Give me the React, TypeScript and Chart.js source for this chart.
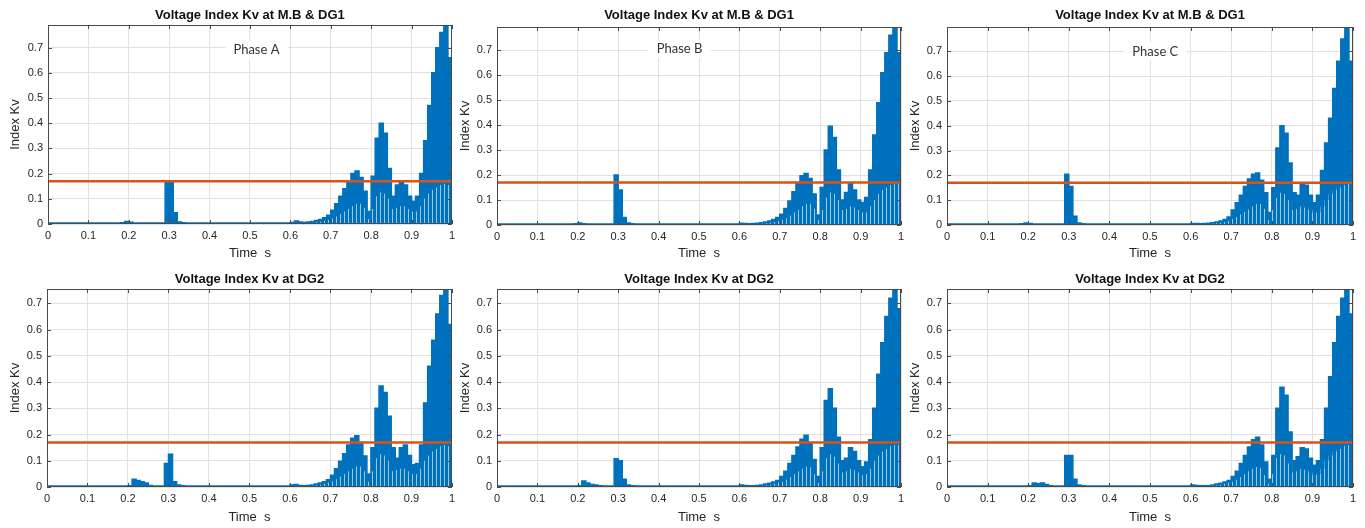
import React, { useEffect, useRef } from "react";
import { Chart, registerables } from "chart.js";

Chart.register(...registerables);

// ---------- data ----------
// time axis: one sample per half-cycle (0.01 s), value holds over [t, t+0.01]
const TIME = Array.from({ length: 101 }, (_, i) => i / 100);
const FLOOR_TIME = TIME.slice(65);
const THRESHOLD = 0.17;
const X_TICK_STEP = 0.1;
const Y_TICK_STEP = 0.1;

const TITLE_MB = "Voltage Index Kv at M.B & DG1";
const TITLE_DG2 = "Voltage Index Kv at DG2";
const X_TITLE = "Time  s";
const Y_TITLE = "Index Kv";
const PHASES = ["Phase A", "Phase B", "Phase C"];

// upper envelope of Kv (peak per half-cycle)
const KV_MB_A = [
  0.004, 0.004, 0.004, 0.004, 0.004, 0.004, 0.004, 0.004, 0.004, 0.004,
  0.004, 0.004, 0.004, 0.004, 0.004, 0.004, 0.004, 0.004, 0.005, 0.01,
  0.007, 0.004, 0.004, 0.004, 0.004, 0.004, 0.004, 0.004, 0.004, 0.17,
  0.17, 0.045, 0.008, 0.005, 0.004, 0.004, 0.004, 0.004, 0.004, 0.004,
  0.004, 0.004, 0.004, 0.004, 0.004, 0.004, 0.004, 0.004, 0.004, 0.004,
  0.004, 0.004, 0.004, 0.004, 0.004, 0.004, 0.004, 0.004, 0.004, 0.004,
  0.006, 0.012, 0.008, 0.006, 0.008, 0.01, 0.014, 0.018, 0.025, 0.035,
  0.055, 0.08, 0.11, 0.14, 0.17, 0.2, 0.21, 0.185, 0.13, 0.05,
  0.19, 0.34, 0.4, 0.36, 0.22, 0.11, 0.155, 0.17, 0.155, 0.11,
  0.09, 0.11, 0.2, 0.33, 0.47, 0.6, 0.7, 0.76, 0.79, 0.66,
  0.37,
];
const KV_MB_B = [
  0.004, 0.004, 0.004, 0.004, 0.004, 0.004, 0.004, 0.004, 0.004, 0.004,
  0.004, 0.004, 0.004, 0.004, 0.004, 0.004, 0.004, 0.004, 0.004, 0.005,
  0.008, 0.005, 0.004, 0.004, 0.004, 0.004, 0.004, 0.004, 0.004, 0.2,
  0.14, 0.03, 0.008, 0.005, 0.004, 0.004, 0.004, 0.004, 0.004, 0.004,
  0.004, 0.004, 0.004, 0.004, 0.004, 0.004, 0.004, 0.004, 0.004, 0.004,
  0.004, 0.004, 0.004, 0.004, 0.004, 0.004, 0.004, 0.004, 0.004, 0.004,
  0.007, 0.006, 0.005, 0.006, 0.007, 0.009, 0.012, 0.016, 0.022, 0.03,
  0.043, 0.066, 0.096, 0.133, 0.17, 0.197, 0.206, 0.186, 0.124, 0.04,
  0.15, 0.3, 0.395, 0.35, 0.22, 0.1, 0.13, 0.165, 0.14, 0.1,
  0.09, 0.11, 0.22, 0.36, 0.49, 0.61, 0.69, 0.76, 0.79, 0.69,
  0.6,
];
const KV_MB_C = [
  0.004, 0.004, 0.004, 0.004, 0.004, 0.004, 0.004, 0.004, 0.004, 0.004,
  0.004, 0.004, 0.004, 0.004, 0.004, 0.004, 0.004, 0.004, 0.005, 0.008,
  0.006, 0.004, 0.004, 0.004, 0.004, 0.004, 0.004, 0.004, 0.004, 0.205,
  0.155, 0.035, 0.008, 0.005, 0.004, 0.004, 0.004, 0.004, 0.004, 0.004,
  0.004, 0.004, 0.004, 0.004, 0.004, 0.004, 0.004, 0.004, 0.004, 0.004,
  0.004, 0.004, 0.004, 0.004, 0.004, 0.004, 0.004, 0.004, 0.004, 0.004,
  0.006, 0.006, 0.005, 0.006, 0.007, 0.009, 0.012, 0.016, 0.022, 0.032,
  0.06, 0.09, 0.12, 0.155, 0.185, 0.205, 0.21, 0.18, 0.13, 0.05,
  0.15, 0.31, 0.4, 0.37, 0.25, 0.13, 0.12, 0.165, 0.16, 0.12,
  0.09, 0.12, 0.22, 0.33, 0.43, 0.55, 0.66, 0.75, 0.8, 0.66,
  0.2,
];
const KV_DG2_A = [
  0.004, 0.004, 0.004, 0.004, 0.004, 0.004, 0.004, 0.004, 0.004, 0.004,
  0.004, 0.004, 0.004, 0.004, 0.004, 0.004, 0.004, 0.004, 0.004, 0.004,
  0.005, 0.03, 0.025, 0.02, 0.015, 0.006, 0.004, 0.004, 0.004, 0.09,
  0.125, 0.02, 0.008, 0.005, 0.004, 0.004, 0.004, 0.004, 0.004, 0.004,
  0.004, 0.004, 0.004, 0.004, 0.004, 0.004, 0.004, 0.004, 0.004, 0.004,
  0.004, 0.004, 0.004, 0.004, 0.004, 0.004, 0.004, 0.004, 0.004, 0.004,
  0.008, 0.01, 0.006, 0.005, 0.006, 0.008, 0.011, 0.015, 0.02, 0.028,
  0.045, 0.07, 0.098, 0.127, 0.16, 0.186, 0.195, 0.17, 0.118, 0.05,
  0.15, 0.3, 0.385, 0.36, 0.27, 0.15, 0.11, 0.15, 0.16, 0.12,
  0.085, 0.09, 0.16, 0.32, 0.46, 0.56, 0.66, 0.73, 0.755, 0.62,
  0.345,
];
const KV_DG2_B = [
  0.004, 0.004, 0.004, 0.004, 0.004, 0.004, 0.004, 0.004, 0.004, 0.004,
  0.004, 0.004, 0.004, 0.004, 0.004, 0.004, 0.004, 0.004, 0.004, 0.004,
  0.005, 0.023, 0.015, 0.01, 0.008, 0.005, 0.004, 0.004, 0.004, 0.108,
  0.1, 0.03, 0.008, 0.005, 0.004, 0.004, 0.004, 0.004, 0.004, 0.004,
  0.004, 0.004, 0.004, 0.004, 0.004, 0.004, 0.004, 0.004, 0.004, 0.004,
  0.004, 0.004, 0.004, 0.004, 0.004, 0.004, 0.004, 0.004, 0.004, 0.004,
  0.008, 0.006, 0.005, 0.005, 0.006, 0.008, 0.011, 0.014, 0.019, 0.025,
  0.04, 0.06, 0.09, 0.12, 0.153, 0.182, 0.197, 0.165, 0.105, 0.04,
  0.15, 0.33, 0.375, 0.3, 0.19, 0.1, 0.11, 0.15, 0.135, 0.1,
  0.077, 0.095, 0.18, 0.3, 0.43, 0.55, 0.65, 0.72, 0.752, 0.68,
  0.59,
];
const KV_DG2_C = [
  0.004, 0.004, 0.004, 0.004, 0.004, 0.004, 0.004, 0.004, 0.004, 0.004,
  0.004, 0.004, 0.004, 0.004, 0.004, 0.004, 0.004, 0.004, 0.004, 0.004,
  0.005, 0.015, 0.012, 0.015, 0.01, 0.005, 0.004, 0.004, 0.004, 0.12,
  0.12, 0.03, 0.008, 0.005, 0.004, 0.004, 0.004, 0.004, 0.004, 0.004,
  0.004, 0.004, 0.004, 0.004, 0.004, 0.004, 0.004, 0.004, 0.004, 0.004,
  0.004, 0.004, 0.004, 0.004, 0.004, 0.004, 0.004, 0.004, 0.004, 0.004,
  0.008, 0.006, 0.005, 0.005, 0.005, 0.008, 0.011, 0.014, 0.019, 0.025,
  0.04, 0.06, 0.09, 0.12, 0.153, 0.18, 0.19, 0.16, 0.095, 0.03,
  0.12, 0.3, 0.38, 0.35, 0.21, 0.1, 0.115, 0.15, 0.145, 0.11,
  0.083, 0.1, 0.18, 0.3, 0.42, 0.55, 0.65, 0.72, 0.755, 0.66,
  0.22,
];

// level below which the oscillation shows gaps (t = 0.65 .. 1.00)
const FLOOR_MB_A = [
  0.005, 0.007, 0.009, 0.012, 0.016,
  0.022, 0.03, 0.04, 0.05, 0.06, 0.07, 0.08, 0.08, 0.065, 0.02,
  0.06, 0.11, 0.125, 0.12, 0.1, 0.06, 0.065, 0.07, 0.07, 0.06,
  0.05, 0.05, 0.07, 0.1, 0.12, 0.135, 0.145, 0.155, 0.16, 0.155,
  0.155,
];
const FLOOR_MB_B = [
  0.005, 0.007, 0.009, 0.012, 0.016,
  0.02, 0.028, 0.038, 0.05, 0.06, 0.075, 0.085, 0.085, 0.065, 0.02,
  0.06, 0.11, 0.13, 0.125, 0.1, 0.06, 0.065, 0.075, 0.07, 0.06,
  0.05, 0.05, 0.075, 0.1, 0.125, 0.14, 0.15, 0.16, 0.165, 0.165,
  0.165,
];
const FLOOR_MB_C = [
  0.005, 0.007, 0.009, 0.012, 0.016,
  0.024, 0.032, 0.042, 0.052, 0.062, 0.075, 0.085, 0.085, 0.065, 0.02,
  0.06, 0.11, 0.13, 0.125, 0.1, 0.06, 0.065, 0.075, 0.07, 0.06,
  0.05, 0.05, 0.075, 0.1, 0.125, 0.14, 0.15, 0.16, 0.165, 0.165,
  0.165,
];
const FLOOR_DG2_A = [
  0.005, 0.007, 0.009, 0.012, 0.016,
  0.022, 0.03, 0.04, 0.05, 0.06, 0.07, 0.078, 0.078, 0.06, 0.02,
  0.06, 0.11, 0.125, 0.12, 0.1, 0.06, 0.065, 0.07, 0.07, 0.06,
  0.05, 0.05, 0.07, 0.1, 0.12, 0.135, 0.145, 0.155, 0.16, 0.155,
  0.155,
];
const FLOOR_DG2_B = [
  0.005, 0.007, 0.009, 0.012, 0.016,
  0.02, 0.028, 0.038, 0.05, 0.06, 0.07, 0.078, 0.075, 0.05, 0.015,
  0.06, 0.11, 0.125, 0.115, 0.09, 0.055, 0.06, 0.07, 0.065, 0.055,
  0.045, 0.05, 0.07, 0.1, 0.12, 0.135, 0.145, 0.155, 0.16, 0.16,
  0.16,
];
const FLOOR_DG2_C = [
  0.005, 0.007, 0.009, 0.012, 0.016,
  0.02, 0.028, 0.038, 0.05, 0.06, 0.07, 0.076, 0.072, 0.045, 0.012,
  0.05, 0.11, 0.125, 0.12, 0.09, 0.055, 0.06, 0.07, 0.065, 0.055,
  0.045, 0.05, 0.07, 0.1, 0.12, 0.135, 0.145, 0.155, 0.16, 0.155,
  0.155,
];

const Y_MAX_TOP = [0.79, 0.793, 0.798];
const Y_MAX_BOTTOM = [0.755, 0.755, 0.755];
// phase label anchor in data units [time, Kv]
const PHASE_POS = [
  [0.516, 0.69],
  [0.452, 0.705],
  [0.513, 0.7],
];

// ---------- layout (pixels) ----------
type Box = { cx: number; cy: number; cw: number; ch: number; L: number; R: number; T: number; B: number };
const BOXES: Box[] = [
  { cx: 0, cy: 0, cw: 460, ch: 264, L: 48, R: 453, T: 25, B: 224 },
  { cx: 450, cy: 0, cw: 460, ch: 264, L: 497, R: 901, T: 27, B: 225 },
  { cx: 900, cy: 0, cw: 465, ch: 264, L: 947, R: 1353, T: 27, B: 225 },
  { cx: 0, cy: 264, cw: 460, ch: 264, L: 47, R: 452, T: 289, B: 487 },
  { cx: 450, cy: 264, cw: 460, ch: 264, L: 497, R: 901, T: 289, B: 487 },
  { cx: 900, cy: 264, cw: 465, ch: 264, L: 947, R: 1353, T: 289, B: 487 },
];

const FONT = '"Liberation Sans", Arial, Helvetica, sans-serif';
const BLUE = "#0072BD";
const ORANGE = "#D95319";
const TEXT = "#262626";
const GRID = "#e1e1e1";

type Spec = {
  title: string;
  values: number[];
  floor: number[];
  yMax: number;
  phase?: { text: string; x: number; y: number };
  box: Box;
};

const SPECS: Spec[] = [
  { title: TITLE_MB, values: KV_MB_A, floor: FLOOR_MB_A, yMax: Y_MAX_TOP[0], phase: { text: PHASES[0], x: PHASE_POS[0][0], y: PHASE_POS[0][1] }, box: BOXES[0] },
  { title: TITLE_MB, values: KV_MB_B, floor: FLOOR_MB_B, yMax: Y_MAX_TOP[1], phase: { text: PHASES[1], x: PHASE_POS[1][0], y: PHASE_POS[1][1] }, box: BOXES[1] },
  { title: TITLE_MB, values: KV_MB_C, floor: FLOOR_MB_C, yMax: Y_MAX_TOP[2], phase: { text: PHASES[2], x: PHASE_POS[2][0], y: PHASE_POS[2][1] }, box: BOXES[2] },
  { title: TITLE_DG2, values: KV_DG2_A, floor: FLOOR_DG2_A, yMax: Y_MAX_BOTTOM[0], box: BOXES[3] },
  { title: TITLE_DG2, values: KV_DG2_B, floor: FLOOR_DG2_B, yMax: Y_MAX_BOTTOM[1], box: BOXES[4] },
  { title: TITLE_DG2, values: KV_DG2_C, floor: FLOOR_DG2_C, yMax: Y_MAX_BOTTOM[2], box: BOXES[5] },
];

const toXY = (xs: number[], ys: number[]) => ys.map((y, i) => ({ x: xs[i], y }));

function makeStripePattern(): CanvasPattern | string {
  const c = document.createElement("canvas");
  c.width = 4;
  c.height = 1;
  const g = c.getContext("2d");
  if (!g) return "rgba(255,255,255,0.25)";
  g.fillStyle = "rgba(255,255,255,0.6)";
  g.fillRect(0, 0, 1, 1);
  const p = g.createPattern(c, "repeat");
  return p || "rgba(255,255,255,0.25)";
}

function makeOverlay(phase?: { text: string; x: number; y: number }) {
  return {
    id: "matlabFrame",
    afterDatasetsDraw(chart: any) {
      const { ctx, chartArea: ca, scales } = chart;
      const xs = scales.x;
      const ys = scales.y;
      ctx.save();
      if (phase) {
        ctx.font = `13px Lato, "Open Sans", sans-serif`;
        const w = ctx.measureText(phase.text).width;
        const px = xs.getPixelForValue(phase.x);
        const py = ys.getPixelForValue(phase.y);
        ctx.fillStyle = "#ffffff";
        ctx.fillRect(px - w / 2 - 8, py - 9, w + 16, 18);
        ctx.fillStyle = "#333333";
        ctx.textAlign = "center";
        ctx.textBaseline = "middle";
        ctx.fillText(phase.text, px, py);
      }
      ctx.strokeStyle = "#4a4a4a";
      ctx.lineWidth = 1;
      ctx.beginPath();
      for (const t of xs.ticks) {
        const px = Math.round(xs.getPixelForValue(t.value)) + 0.5;
        ctx.moveTo(px, ca.bottom);
        ctx.lineTo(px, ca.bottom - 4);
        ctx.moveTo(px, ca.top);
        ctx.lineTo(px, ca.top + 4);
      }
      for (const t of ys.ticks) {
        const py = Math.round(ys.getPixelForValue(t.value)) + 0.5;
        ctx.moveTo(ca.left, py);
        ctx.lineTo(ca.left + 4, py);
        ctx.moveTo(ca.right, py);
        ctx.lineTo(ca.right - 4, py);
      }
      ctx.stroke();
      ctx.strokeRect(
        Math.round(ca.left) + 0.5,
        Math.round(ca.top) + 0.5,
        Math.round(ca.right - ca.left) - 1,
        Math.round(ca.bottom - ca.top) - 1
      );
      ctx.restore();
    },
  };
}

function buildConfig(spec: Spec): any {
  const b = spec.box;
  const yW = b.L - b.cx;
  const padR = b.cx + b.cw - b.R;
  const titleBlock = b.T - b.cy;
  const xH = b.cy + b.ch - b.B;
  const titleLH = 13 * 1.2;
  const titleTop = 15 - titleLH / 2;
  const titleBottom = Math.max(0, titleBlock - titleLH - titleTop);
  const fmt = (v: any) => String(Math.round(Number(v) * 10) / 10);

  return {
    type: "line",
    data: {
      datasets: [
        {
          label: "threshold",
          data: [
            { x: 0, y: THRESHOLD },
            { x: 1, y: THRESHOLD },
          ],
          borderColor: ORANGE,
          borderWidth: 2.5,
          pointRadius: 0,
          fill: false,
          order: 0,
        },
        {
          label: "gaps",
          data: toXY(FLOOR_TIME, spec.floor),
          stepped: true,
          borderWidth: 0,
          borderColor: "rgba(0,0,0,0)",
          backgroundColor: makeStripePattern(),
          pointRadius: 0,
          fill: "origin",
          order: 1,
        },
        {
          label: "Kv",
          data: toXY(TIME, spec.values),
          stepped: true,
          borderColor: BLUE,
          borderWidth: 1.5,
          backgroundColor: BLUE,
          pointRadius: 0,
          fill: "origin",
          order: 2,
        },
      ],
    },
    options: {
      responsive: false,
      animation: false,
      devicePixelRatio: 1,
      events: [],
      layout: { padding: { left: 0, right: padR, top: 0, bottom: 0 } },
      plugins: {
        legend: { display: false },
        tooltip: { enabled: false },
        title: {
          display: true,
          text: spec.title,
          fullSize: false,
          color: "#111111",
          font: { family: FONT, size: 13, weight: "bold", lineHeight: 1.2 },
          padding: { top: titleTop, bottom: titleBottom },
        },
      },
      scales: {
        x: {
          type: "linear",
          min: 0,
          max: 1,
          afterFit: (s: any) => {
            s.height = xH;
          },
          grid: { color: GRID, lineWidth: 1, drawTicks: false },
          border: { display: false },
          ticks: {
            stepSize: X_TICK_STEP,
            includeBounds: false,
            autoSkip: false,
            maxRotation: 0,
            padding: 5,
            color: TEXT,
            font: { family: FONT, size: 11 },
            callback: fmt,
          },
          title: {
            display: true,
            text: X_TITLE,
            color: TEXT,
            font: { family: FONT, size: 13, lineHeight: 1.2 },
            padding: { top: 0, bottom: 3.2 },
          },
        },
        y: {
          type: "linear",
          min: 0,
          max: spec.yMax,
          afterFit: (s: any) => {
            s.width = yW;
          },
          grid: { color: GRID, lineWidth: 1, drawTicks: false },
          border: { display: false },
          ticks: {
            stepSize: Y_TICK_STEP,
            includeBounds: false,
            autoSkip: false,
            padding: 5,
            color: TEXT,
            font: { family: FONT, size: 11 },
            callback: fmt,
          },
          title: {
            display: true,
            text: Y_TITLE,
            color: TEXT,
            font: { family: FONT, size: 13, lineHeight: 1.2 },
            padding: { top: 7.2, bottom: 0 },
          },
        },
      },
    },
    plugins: [makeOverlay(spec.phase)],
  };
}

function Panel({ spec }: { spec: Spec }) {
  const ref = useRef<HTMLCanvasElement | null>(null);
  useEffect(() => {
    const canvas = ref.current;
    if (!canvas) return;
    const chart = new Chart(canvas, buildConfig(spec));
    return () => chart.destroy();
  }, [spec]);
  const b = spec.box;
  return (
    <canvas
      ref={ref}
      width={b.cw}
      height={b.ch}
      style={{ position: "absolute", left: b.cx, top: b.cy, width: b.cw, height: b.ch }}
    />
  );
}

export default function App() {
  return (
    <div
      style={{
        position: "absolute",
        left: 0,
        top: 0,
        width: 1365,
        height: 528,
        background: "#ffffff",
        overflow: "hidden",
      }}
    >
      {SPECS.map((s, i) => (
        <Panel key={i} spec={s} />
      ))}
    </div>
  );
}
